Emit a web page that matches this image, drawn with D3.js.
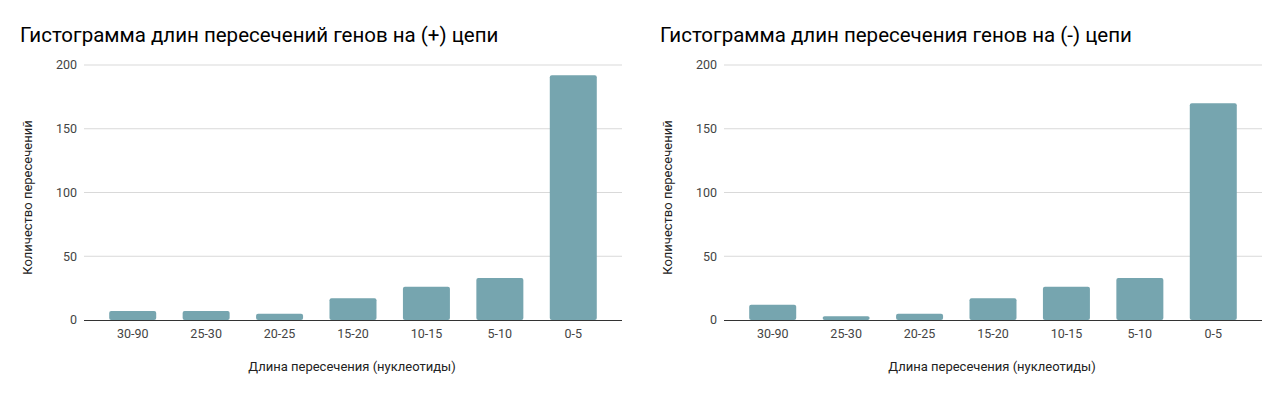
<!DOCTYPE html>
<html>
<head>
<meta charset="utf-8">
<script src="https://cdn.jsdelivr.net/npm/d3@7"></script>
<style>
    body { margin: 0; background: #fff; font-family: Roboto, "Noto Sans", sans-serif; }
    svg { display: block; }
</style>
</head>
<body>
<div id="chart"></div>
<script>
// Data
const categories = ["30-90", "25-30", "20-25", "15-20", "10-15", "5-10", "0-5"];
const plusValues = [7, 7, 5, 17, 26, 33, 192];
const minusValues = [12, 3, 5, 17, 26, 33, 170];
const yTicks = [0, 50, 100, 150, 200];
const titles = [
    "Гистограмма длин пересечений генов на (+) цепи",
    "Гистограмма длин пересечения генов на (-) цепи"
];
const xTitle = "Длина пересечения (нуклеотиды)";
const yTitle = "Количество пересечений";

const svg = d3.select("#chart")
    .append("svg")
    .attr("width", 1280)
    .attr("height", 396);

function drawPanel(offsetX, title, values) {
    const g = svg.append("g").attr("transform", `translate(${offsetX},0)`);
    const left = 84, right = 622, top = 65, bottom = 320;

    const x = d3.scaleBand()
        .domain(categories)
        .range([96, 610])
        .paddingInner(0.36)
        .paddingOuter(0.18);

    const y = d3.scaleLinear()
        .domain([0, 200])
        .range([bottom, top]);

    g.append("text")
        .attr("x", 20)
        .attr("y", 42)
        .attr("font-size", 20.5)
        .attr("fill", "#000")
        .text(title);

    // gridlines
    g.selectAll(".grid")
        .data(yTicks.filter(d => d > 0))
        .enter()
        .append("line")
        .attr("x1", left)
        .attr("x2", right)
        .attr("y1", d => y(d))
        .attr("y2", d => y(d))
        .attr("stroke", "#d9d9d9")
        .attr("stroke-width", 1);

    g.selectAll(".ylab")
        .data(yTicks)
        .enter()
        .append("text")
        .attr("x", 77)
        .attr("y", d => y(d))
        .attr("dy", "0.35em")
        .attr("text-anchor", "end")
        .attr("font-size", 12.5)
        .attr("fill", "#444")
        .text(d => d);

    g.selectAll(".bar")
        .data(values)
        .enter()
        .append("rect")
        .attr("x", (d, i) => x(categories[i]))
        .attr("y", d => y(d))
        .attr("width", x.bandwidth())
        .attr("height", d => bottom - y(d))
        .attr("rx", 2)
        .attr("fill", "#76a5af");

    g.append("line")
        .attr("x1", left)
        .attr("x2", right)
        .attr("y1", bottom + 0.5)
        .attr("y2", bottom + 0.5)
        .attr("stroke", "#333")
        .attr("stroke-width", 1);

    g.selectAll(".xlab")
        .data(categories)
        .enter()
        .append("text")
        .attr("x", d => x(d) + x.bandwidth() / 2)
        .attr("y", 338)
        .attr("text-anchor", "middle")
        .attr("font-size", 12.5)
        .attr("fill", "#444")
        .text(d => d);

    g.append("text")
        .attr("x", 352)
        .attr("y", 371)
        .attr("text-anchor", "middle")
        .attr("font-size", 13)
        .attr("fill", "#222")
        .text(xTitle);

    g.append("text")
        .attr("transform", `translate(32,${(top + bottom) / 2 + 5}) rotate(-90)`)
        .attr("text-anchor", "middle")
        .attr("font-size", 13)
        .attr("fill", "#222")
        .text(yTitle);
}

drawPanel(0, titles[0], plusValues);
drawPanel(640, titles[1], minusValues);
</script>
</body>
</html>
